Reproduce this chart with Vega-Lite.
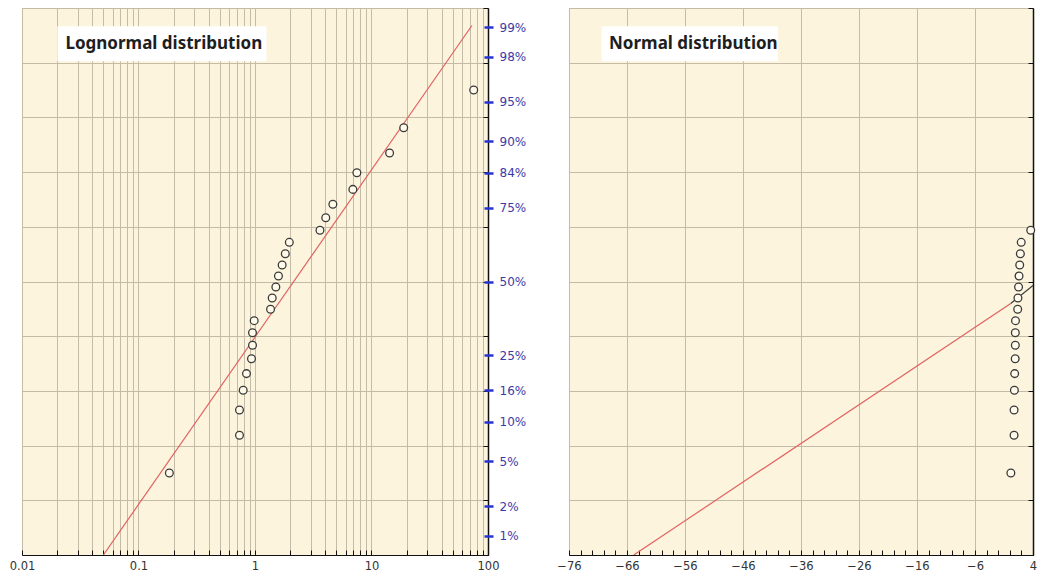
{
  "$schema": "https://vega.github.io/schema/vega-lite/v6.json",
  "padding": {"left": 8, "top": 7, "right": 0, "bottom": 0},
  "background": "white",
  "bounds": "flush",
  "spacing": 81,
  "config": {
    "view": {"fill": "#fcf4dc", "stroke": "#c9c1ad", "strokeWidth": 1},
    "axis": {
      "labelFont": "DejaVu Sans",
      "labelFontSize": 11.5,
      "labelColor": "#333333",
      "gridColor": "#c4bca7",
      "gridOpacity": 1,
      "gridWidth": 1,
      "domainColor": "#111111",
      "tickColor": "#111111"
    }
  },
  "datasets": {
    "pts": [
      {"value": 0.184, "z": -1.751},
      {"value": 0.736, "z": -1.405},
      {"value": 0.736, "z": -1.175},
      {"value": 0.792, "z": -0.994},
      {"value": 0.845, "z": -0.842},
      {"value": 0.933, "z": -0.706},
      {"value": 0.952, "z": -0.583},
      {"value": 0.952, "z": -0.468},
      {"value": 0.984, "z": -0.358},
      {"value": 1.36, "z": -0.253},
      {"value": 1.405, "z": -0.151},
      {"value": 1.51, "z": -0.05},
      {"value": 1.59, "z": 0.05},
      {"value": 1.71, "z": 0.151},
      {"value": 1.82, "z": 0.253},
      {"value": 1.97, "z": 0.358},
      {"value": 3.61, "z": 0.468},
      {"value": 4.05, "z": 0.583},
      {"value": 4.66, "z": 0.706},
      {"value": 6.92, "z": 0.842},
      {"value": 7.49, "z": 0.994},
      {"value": 14.3, "z": 1.175},
      {"value": 18.9, "z": 1.405},
      {"value": 75.4, "z": 1.751}
    ],
    "logfit": [
      {"value": 0.0499, "z": -2.5},
      {"value": 72.8, "z": 2.34}
    ],
    "normfit": [
      {"value": -64.84, "z": -2.5, "seg": "red"},
      {"value": 0.155, "z": -0.201, "seg": "red"},
      {"value": 0.155, "z": -0.201, "seg": "dark"},
      {"value": 4, "z": -0.037, "seg": "dark"}
    ],
    "titleL": [
      {"x1": 0.0201, "x2": 1.255, "y1": 2.333, "y2": 2.013, "tx": 0.0236, "ty": 2.173, "label": "Lognormal distribution"}
    ],
    "titleR": [
      {"x1": -70.41, "x2": -39.97, "y1": 2.333, "y2": 2.013, "tx": -69.1, "ty": 2.173, "label": "Normal distribution"}
    ]
  },
  "hconcat": [
    {
      "width": 466,
      "height": 547,
      "resolve": {"axis": {"y": "independent", "x": "independent"}},
      "layer": [
        {
          "data": {"name": "logfit"},
          "mark": {"type": "line", "color": "#e06262", "strokeWidth": 1.2, "clip": true},
          "encoding": {
            "x": {
              "field": "value", "type": "quantitative",
              "scale": {"type": "log", "domain": [0.01, 100], "nice": false},
              "axis": {
                "orient": "bottom",
                "title": null,
                "values": [0.01,0.02,0.03,0.04,0.05,0.06,0.07,0.08,0.09,0.1,0.2,0.3,0.4,0.5,0.6,0.7,0.8,0.9,1,2,3,4,5,6,7,8,9,10,20,30,40,50,60,70,80,90,100],
                "grid": true,
                "tickSize": -5,
                "labelPadding": 10,
                "labelOverlap": false,
                "labelFlush": false,
                "labelBound": false,
                "labelExpr": "datum.value == 0.01 || datum.value == 0.1 || datum.value == 1 || datum.value == 10 || datum.value == 100 ? format(datum.value, '~g') : ''"
              }
            },
            "y": {
              "field": "z", "type": "quantitative",
              "scale": {"domain": [-2.5, 2.5], "nice": false, "zero": false},
              "axis": {
                "orient": "left", "title": null,
                "values": [-2.5,-2,-1.5,-1,-0.5,0,0.5,1,1.5,2,2.5],
                "grid": true, "labels": false, "ticks": false, "domain": false
              }
            }
          }
        },
        {
          "data": {"name": "titleL"},
          "mark": {"type": "rect", "fill": "white", "stroke": null},
          "encoding": {
            "x": {"field": "x1", "type": "quantitative", "axis": null},
            "x2": {"field": "x2"},
            "y": {
              "field": "y1", "type": "quantitative",
              "axis": {
                "orient": "right", "title": null,
                "values": [-2.5,-2,-1.5,-1,-0.5,0,0.5,1,1.5,2,2.5],
                "grid": false, "labels": false, "tickSize": -5, "domain": true, "domainWidth": 1.5
              }
            },
            "y2": {"field": "y2"}
          }
        },
        {
          "data": {"name": "titleL"},
          "mark": {"type": "text", "align": "left", "baseline": "middle", "font": "Noto Sans", "fontSize": 17, "fontWeight": "bold", "color": "#1e1e1e"},
          "encoding": {
            "x": {"field": "tx", "type": "quantitative", "axis": null},
            "y": {"field": "ty", "type": "quantitative", "axis": null},
            "text": {"field": "label"}
          }
        },
        {
          "data": {"name": "pts"},
          "mark": {"type": "circle", "size": 60, "fill": "#fffaea", "stroke": "#3a3a3a", "strokeWidth": 1.3, "opacity": 1},
          "encoding": {
            "x": {"field": "value", "type": "quantitative", "axis": null},
            "y": {
              "field": "z", "type": "quantitative",
              "axis": {
                "orient": "right", "title": null,
                "values": [-2.3263,-2.0537,-1.6449,-1.2816,-0.9945,-0.6745,0,0.6745,0.9945,1.2816,1.6449,2.0537,2.3263],
                "grid": false, "domain": false, "offset": -4,
                "tickSize": 9, "tickWidth": 2.5, "tickColor": "#2433d6",
                "labelColor": "#3b3ba8", "labelFontSize": 12, "labelPadding": 6,
                "labelOverlap": false,
                "labelExpr": "format(cumulativeNormal(datum.value), '.0%')"
              }
            }
          }
        }
      ]
    },
    {
      "width": 464,
      "height": 547,
      "resolve": {"axis": {"y": "independent", "x": "independent"}},
      "layer": [
        {
          "data": {"name": "normfit"},
          "transform": [{"filter": "datum.seg == 'red'"}],
          "mark": {"type": "line", "color": "#e06262", "strokeWidth": 1.2, "clip": true},
          "encoding": {
            "x": {
              "field": "value", "type": "quantitative",
              "scale": {"domain": [-76, 4], "nice": false, "zero": false},
              "axis": {
                "orient": "bottom",
                "title": null,
                "values": [-76,-66,-56,-46,-36,-26,-16,-6,4],
                "grid": true, "labels": false, "ticks": false, "domain": false
              }
            },
            "y": {
              "field": "z", "type": "quantitative",
              "scale": {"domain": [-2.5, 2.5], "nice": false, "zero": false},
              "axis": {
                "orient": "left", "title": null,
                "values": [-2.5,-2,-1.5,-1,-0.5,0,0.5,1,1.5,2,2.5],
                "grid": true, "labels": false, "ticks": false, "domain": false
              }
            }
          }
        },
        {
          "data": {"name": "normfit"},
          "transform": [{"filter": "datum.seg == 'dark'"}],
          "mark": {"type": "line", "color": "#3a3a3a", "strokeWidth": 1.2, "clip": true},
          "encoding": {
            "x": {
              "field": "value", "type": "quantitative",
              "axis": {
                "orient": "bottom",
                "title": null,
                "values": [-76,-74,-72,-70,-68,-66,-64,-62,-60,-58,-56,-54,-52,-50,-48,-46,-44,-42,-40,-38,-36,-34,-32,-30,-28,-26,-24,-22,-20,-18,-16,-14,-12,-10,-8,-6,-4,-2,0,2,4],
                "grid": false, "tickSize": -5, "labelPadding": 10,
                "labelOverlap": false, "labelFlush": false, "labelBound": false,
                "format": "d",
                "labelExpr": "(datum.value + 76) % 10 == 0 ? datum.label : ''"
              }
            },
            "y": {
              "field": "z", "type": "quantitative",
              "axis": {
                "orient": "right", "title": null,
                "values": [-2.5,-2,-1.5,-1,-0.5,0,0.5,1,1.5,2,2.5],
                "grid": false, "labels": false, "tickSize": -5, "domain": true, "domainWidth": 1.5
              }
            }
          }
        },
        {
          "data": {"name": "titleR"},
          "mark": {"type": "rect", "fill": "white", "stroke": null},
          "encoding": {
            "x": {"field": "x1", "type": "quantitative", "axis": null},
            "x2": {"field": "x2"},
            "y": {"field": "y1", "type": "quantitative", "axis": null},
            "y2": {"field": "y2"}
          }
        },
        {
          "data": {"name": "titleR"},
          "mark": {"type": "text", "align": "left", "baseline": "middle", "font": "Noto Sans", "fontSize": 17, "fontWeight": "bold", "color": "#1e1e1e"},
          "encoding": {
            "x": {"field": "tx", "type": "quantitative", "axis": null},
            "y": {"field": "ty", "type": "quantitative", "axis": null},
            "text": {"field": "label"}
          }
        },
        {
          "data": {"name": "pts"},
          "transform": [{"filter": "datum.value <= 4"}],
          "mark": {"type": "circle", "size": 60, "fill": "#fffaea", "stroke": "#3a3a3a", "strokeWidth": 1.3, "opacity": 1},
          "encoding": {
            "x": {"field": "value", "type": "quantitative", "axis": null},
            "y": {"field": "z", "type": "quantitative", "axis": null}
          }
        }
      ]
    }
  ]
}
